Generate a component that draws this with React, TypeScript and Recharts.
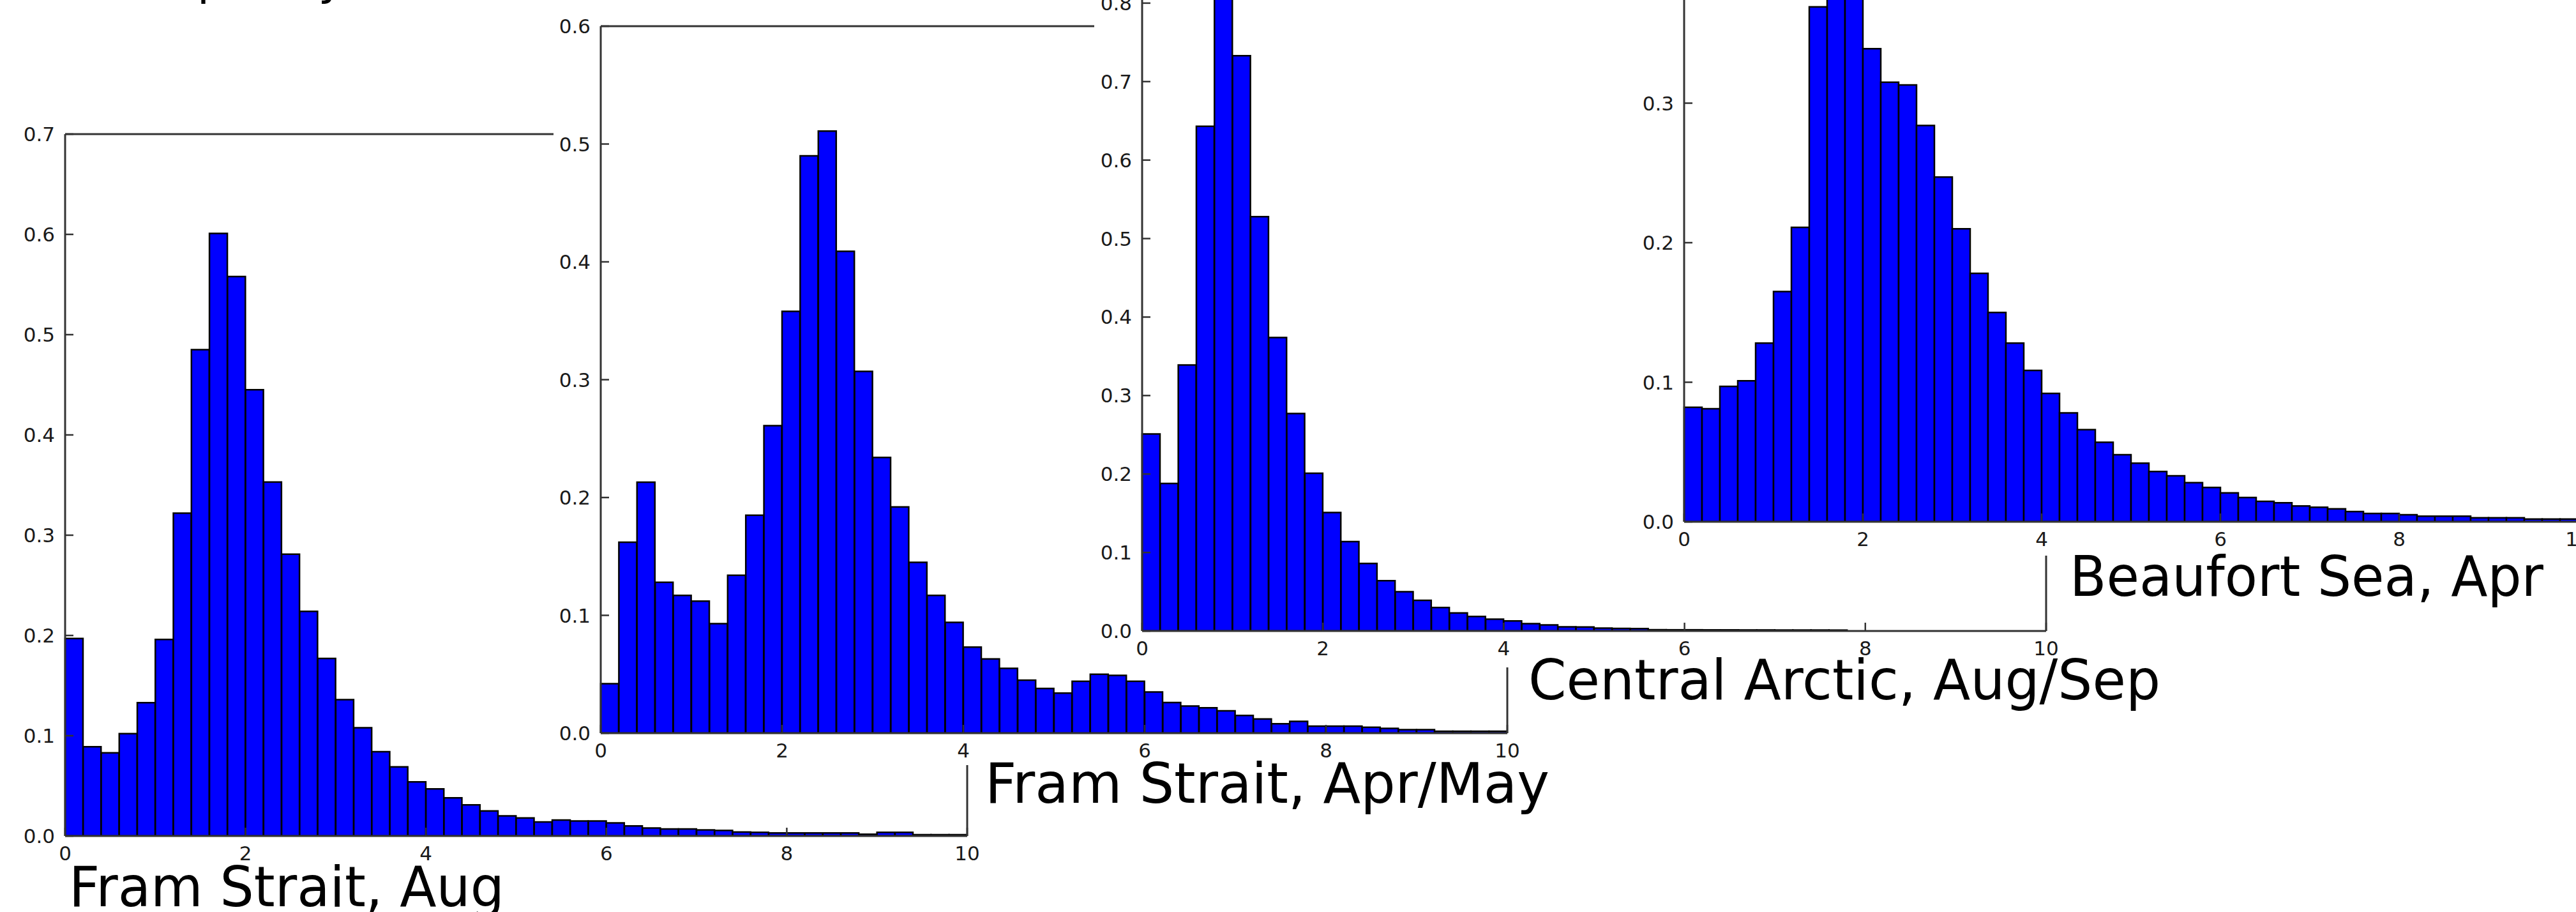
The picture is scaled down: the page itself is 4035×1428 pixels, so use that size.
import React from 'react';
import { BarChart, Bar, XAxis, YAxis } from 'recharts';

// ---------- data ----------
const binCenters = [
  0.1, 0.3, 0.5, 0.7, 0.9, 1.1, 1.3, 1.5, 1.7, 1.9,
  2.1, 2.3, 2.5, 2.7, 2.9, 3.1, 3.3, 3.5, 3.7, 3.9,
  4.1, 4.3, 4.5, 4.7, 4.9, 5.1, 5.3, 5.5, 5.7, 5.9,
  6.1, 6.3, 6.5, 6.7, 6.9, 7.1, 7.3, 7.5, 7.7, 7.9,
  8.1, 8.3, 8.5, 8.7, 8.9, 9.1, 9.3, 9.5, 9.7, 9.9,
];
const xTicks = [0, 2, 4, 6, 8, 10];

const framAugValues = [
  0.197, 0.089, 0.083, 0.102, 0.133, 0.196, 0.322, 0.485, 0.601, 0.558,
  0.445, 0.353, 0.281, 0.224, 0.177, 0.136, 0.108, 0.084, 0.069, 0.054,
  0.047, 0.038, 0.031, 0.025, 0.020, 0.018, 0.014, 0.016, 0.015, 0.015,
  0.013, 0.010, 0.008, 0.007, 0.007, 0.006, 0.0055, 0.004, 0.0036, 0.003,
  0.003, 0.003, 0.003, 0.003, 0.0018, 0.0036, 0.0036, 0.0013, 0.0013, 0.0013,
];
const framAprMayValues = [
  0.042, 0.162, 0.213, 0.128, 0.117, 0.112, 0.093, 0.134, 0.185, 0.261,
  0.358, 0.490, 0.511, 0.409, 0.307, 0.234, 0.192, 0.145, 0.117, 0.094,
  0.073, 0.063, 0.055, 0.045, 0.038, 0.034, 0.044, 0.050, 0.049, 0.044,
  0.035, 0.026, 0.023, 0.0215, 0.019, 0.015, 0.012, 0.008, 0.010, 0.006,
  0.006, 0.006, 0.005, 0.004, 0.003, 0.003, 0.0016, 0.0016, 0.0016, 0.0016,
];
const centralArcticValues = [
  0.251, 0.188, 0.339, 0.643, 0.870, 0.733, 0.528, 0.374, 0.277, 0.201,
  0.151, 0.114, 0.086, 0.064, 0.050, 0.039, 0.030, 0.023, 0.0185, 0.015,
  0.0128, 0.0093, 0.0078, 0.0053, 0.005, 0.0036, 0.0033, 0.0031, 0.0016, 0.0015,
  0.0015, 0.0014, 0.0014, 0.0013, 0.0013, 0.0012, 0.0012, 0.0012, 0.0011, 0,
  0, 0, 0, 0, 0, 0, 0, 0, 0, 0,
];
const beaufortValues = [
  0.082, 0.081, 0.097, 0.101, 0.128, 0.165, 0.211, 0.369, 0.380, 0.385,
  0.339, 0.315, 0.313, 0.284, 0.247, 0.210, 0.178, 0.150, 0.128, 0.1085,
  0.092, 0.078, 0.066, 0.057, 0.048, 0.042, 0.036, 0.033, 0.028, 0.0246,
  0.0207, 0.0174, 0.0146, 0.0136, 0.0113, 0.0104, 0.0093, 0.0073, 0.0059, 0.0059,
  0.005, 0.004, 0.004, 0.004, 0.0029, 0.0029, 0.0029, 0.002, 0.002, 0.002,
];

const yTicksFramAug = [0, 0.1, 0.2, 0.3, 0.4, 0.5, 0.6, 0.7];
const yTicksFramAprMay = [0, 0.1, 0.2, 0.3, 0.4, 0.5, 0.6];
const yTicksCentral = [0, 0.1, 0.2, 0.3, 0.4, 0.5, 0.6, 0.7, 0.8, 0.9];
const yTicksBeaufort = [0, 0.1, 0.2, 0.3, 0.4];

const captions = ['Fram Strait, Aug', 'Fram Strait, Apr/May', 'Central Arctic, Aug/Sep', 'Beaufort Sea, Apr'];
const topText = 'Frequency';

// ---------- styles ----------
const FONT = "'DejaVu Sans', 'Liberation Sans', sans-serif";
const axisStroke = '#333';
const TICK_FONT = 31;
const LABEL_GAP = 16;
const TICK_LEN = 13;

function BottomTick(props: any) {
  const { x, y, payload } = props;
  const axisY = y - LABEL_GAP;
  return (
    <g>
      <line x1={x} x2={x} y1={axisY} y2={axisY - TICK_LEN} stroke={axisStroke} strokeWidth={2.5} />
      <text x={x} y={y} dy="0.71em" textAnchor="middle" fill="#1a1a1a" fontSize={TICK_FONT} fontFamily={FONT}>
        {String(payload.value)}
      </text>
    </g>
  );
}

function LeftTick(props: any) {
  const { x, y, payload } = props;
  const axisX = x + LABEL_GAP;
  return (
    <g>
      <line x1={axisX} x2={axisX + TICK_LEN} y1={y} y2={y} stroke={axisStroke} strokeWidth={2.5} />
      <text x={x} y={y} dy="0.355em" textAnchor="end" fill="#1a1a1a" fontSize={TICK_FONT} fontFamily={FONT}>
        {Number(payload.value).toFixed(1)}
      </text>
    </g>
  );
}

type Box = { left: number; top: number; right: number; bottom: number };

function Panel({ values, yTicks, yMax, plot, clip }: { values: number[]; yTicks: number[]; yMax: number; plot: Box; clip: Box }) {
  const data = binCenters.map((x, i) => ({ x, bin: String(i), v: values[i] }));
  const YW = 100, MT = 30, MR = 50, XH = 70, IN = 20;
  const plotW = plot.right - plot.left;
  const plotH = plot.bottom - plot.top;
  const width = YW + plotW + MR;
  const height = MT + plotH + XH;
  const chartLeft = plot.left - YW - clip.left;
  const chartTop = plot.top - MT - clip.top;
  const lineProps = { stroke: axisStroke, strokeWidth: 3 };
  const tickLineProps = { stroke: axisStroke, strokeWidth: 2.5 };
  return (
    <div
      style={{
        position: 'absolute',
        left: clip.left,
        top: clip.top,
        width: clip.right - clip.left,
        height: clip.bottom - clip.top,
        background: '#fff',
        overflow: 'hidden',
      }}
    >
      <div style={{ position: 'absolute', left: chartLeft, top: chartTop }}>
        <BarChart
          width={width}
          height={height}
          data={data}
          margin={{ top: MT, right: MR, bottom: 0, left: 0 }}
          barCategoryGap={0}
          barGap={0}
        >
          <XAxis
            xAxisId="num"
            dataKey="x"
            type="number"
            domain={[0, 10]}
            ticks={xTicks}
            allowDataOverflow
            height={XH}
            interval={0}
            tickSize={0}
            tickMargin={LABEL_GAP}
            stroke={axisStroke}
            axisLine={lineProps}
            tickLine={false}
            tick={BottomTick}
          />
          <XAxis xAxisId="cat" dataKey="bin" type="category" hide height={0} />
          <XAxis
            xAxisId="top"
            orientation="top"
            mirror
            dataKey="x"
            type="number"
            domain={[0, 10]}
            ticks={xTicks}
            allowDataOverflow
            height={IN}
            interval={0}
            tickSize={TICK_LEN}
            stroke={axisStroke}
            axisLine={lineProps}
            tickLine={tickLineProps}
            tick={false}
          />
          <YAxis
            yAxisId="left"
            type="number"
            domain={[0, yMax]}
            ticks={yTicks}
            allowDataOverflow
            width={YW}
            interval={0}
            tickSize={0}
            tickMargin={LABEL_GAP}
            stroke={axisStroke}
            axisLine={lineProps}
            tickLine={false}
            tick={LeftTick}
          />
          <YAxis
            yAxisId="right"
            orientation="right"
            mirror
            type="number"
            domain={[0, yMax]}
            ticks={yTicks}
            allowDataOverflow
            width={IN}
            interval={0}
            tickSize={TICK_LEN}
            stroke={axisStroke}
            axisLine={lineProps}
            tickLine={tickLineProps}
            tick={false}
          />
          <Bar
            xAxisId="cat"
            yAxisId="left"
            dataKey="v"
            fill="#0000ff"
            stroke="#000"
            strokeWidth={2.5}
            isAnimationActive={false}
          />
        </BarChart>
      </div>
    </div>
  );
}

export default function App() {
  return (
    <div style={{ position: 'absolute', left: 0, top: 0, width: 4035, height: 1428, background: '#fff', overflow: 'hidden' }}>
      <Panel
        values={framAugValues}
        yTicks={yTicksFramAug}
        yMax={0.7}
        plot={{ left: 102, right: 1515, top: 210, bottom: 1309 }}
        clip={{ left: 0, top: 0, right: 1700, bottom: 1428 }}
      />
      <Panel
        values={framAprMayValues}
        yTicks={yTicksFramAprMay}
        yMax={0.6}
        plot={{ left: 941, right: 2361, top: 41, bottom: 1148 }}
        clip={{ left: 867, top: 0, right: 2420, bottom: 1198 }}
      />
      <Panel
        values={centralArcticValues}
        yTicks={yTicksCentral}
        yMax={0.9}
        plot={{ left: 1789, right: 3205, top: -118, bottom: 988 }}
        clip={{ left: 1714, top: 0, right: 3260, bottom: 1045 }}
      />
      <Panel
        values={beaufortValues}
        yTicks={yTicksBeaufort}
        yMax={0.4}
        plot={{ left: 2638, right: 4038, top: -57, bottom: 817 }}
        clip={{ left: 2545, top: 0, right: 4035, bottom: 870 }}
      />
      <svg width={4035} height={1428} style={{ position: 'absolute', left: 0, top: 0, pointerEvents: 'none' }}>
        <g fontFamily={FONT} fill="#000">
          <text x={178} y={-9} fontSize={72} textLength={362} lengthAdjust="spacingAndGlyphs">{topText}</text>
          <text x={108} y={1419} fontSize={88} textLength={682} lengthAdjust="spacingAndGlyphs">{captions[0]}</text>
          <text x={1543} y={1257} fontSize={88} textLength={884} lengthAdjust="spacingAndGlyphs">{captions[1]}</text>
          <text x={2394} y={1095} fontSize={88} textLength={990} lengthAdjust="spacingAndGlyphs">{captions[2]}</text>
          <text x={3242} y={933} fontSize={88} textLength={742} lengthAdjust="spacingAndGlyphs">{captions[3]}</text>
        </g>
      </svg>
    </div>
  );
}
